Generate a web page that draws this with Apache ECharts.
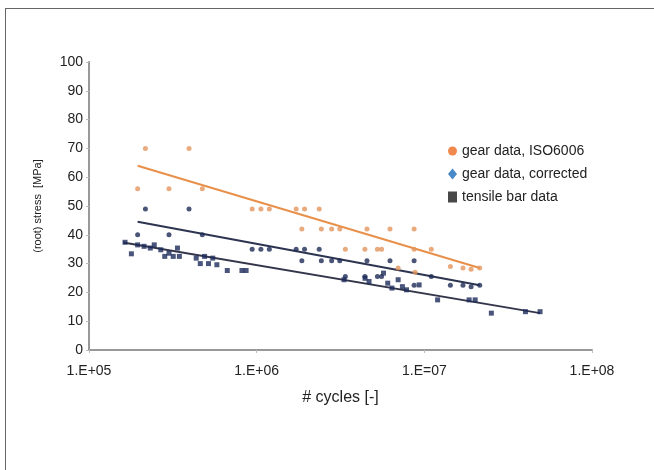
<!DOCTYPE html>
<html style="height: 100%;">
<head>
<meta charset="utf-8">
<title>stress vs cycles</title>
<script type="text/javascript" src="https://cdn.jsdelivr.net/npm/echarts@6/dist/echarts.min.js"></script>
</head>
<body style="height: 100%; margin: 0; background: #fff;">
<div id="frame" style="position:absolute; left:5px; top:8px; width:700px; height:500px; border-left:1px solid #666; border-top:1px solid #666;"></div>
<div id="container" style="position:absolute; left:0; top:0; width:654px; height:470px;"></div>
<script type="text/javascript">
// tick labels as printed in the picture
var xTickLabels = ['1.E+05', '1.E+06', '1.E=07', '1.E+08'];
var legendNames = ['gear data, ISO6006', 'gear data, corrected', 'tensile bar data'];

// gear data, ISO6006 : [cycles, stress]
var isoData = [
  [1.95e5, 56], [2.17e5, 70], [3.0e5, 56], [3.95e5, 70], [4.74e5, 56],
  [9.4e5, 49], [1.06e6, 49], [1.19e6, 49], [1.72e6, 49], [1.93e6, 49], [2.36e6, 49],
  [1.86e6, 42], [2.43e6, 42], [2.8e6, 42], [3.13e6, 42], [4.55e6, 42], [6.24e6, 42], [8.69e6, 42],
  [3.38e6, 35], [4.42e6, 35], [5.25e6, 35], [5.56e6, 35], [8.69e6, 35], [1.1e7, 35],
  [6.98e6, 28.5], [8.8e6, 27], [1.43e7, 29], [1.7e7, 28.5], [1.9e7, 28], [2.14e7, 28.5]
];

// gear data, corrected
var correctedData = [
  [1.95e5, 40], [2.17e5, 49], [3.0e5, 40], [3.95e5, 49], [4.74e5, 40],
  [9.4e5, 35], [1.06e6, 35], [1.19e6, 35], [1.72e6, 35], [1.93e6, 35], [2.36e6, 35],
  [1.86e6, 31], [2.43e6, 31], [2.8e6, 31], [3.13e6, 31], [4.55e6, 31], [6.24e6, 31], [8.69e6, 31],
  [3.38e6, 25.5], [4.42e6, 25.5], [5.25e6, 25.5], [5.56e6, 25.5], [8.69e6, 22.5], [1.1e7, 25.5],
  [1.43e7, 22.5], [1.7e7, 22.5], [1.9e7, 22], [2.14e7, 22.5]
];

// tensile bar data
var tensileData = [
  [1.64e5, 37.4], [1.79e5, 33.4], [1.95e5, 36.5], [2.13e5, 36], [2.32e5, 35.4], [2.45e5, 36.5],
  [2.68e5, 34.8], [2.83e5, 32.5], [3.0e5, 33.6], [3.18e5, 32.5], [3.37e5, 35.4], [3.46e5, 32.5],
  [4.36e5, 31.9], [4.61e5, 30], [4.89e5, 32.5], [5.16e5, 30], [5.47e5, 31.9], [5.79e5, 29.6],
  [6.68e5, 27.6], [8.17e5, 27.6], [8.65e5, 27.6],
  [3.32e6, 24.4], [4.43e6, 24.9], [4.68e6, 23.8], [5.71e6, 26.7], [6.05e6, 23.2], [6.41e6, 21.5],
  [6.98e6, 24.4], [7.4e6, 22], [7.83e6, 20.9], [9.31e6, 22.6], [1.2e7, 17.4], [1.85e7, 17.4],
  [2.01e7, 17.4], [2.51e7, 12.8], [4.01e7, 13.3], [4.9e7, 13.3]
];

// fitted trend lines (end points)
var isoTrend = [[1.95e5, 64], [2.14e7, 28.5]];
var correctedTrend = [[1.95e5, 44.5], [2.14e7, 22.5]];
var tensileTrend = [[1.6e5, 37.3], [4.9e7, 12.8]];

var dom = document.getElementById('container');
var myChart = echarts.init(dom, null, { renderer: 'canvas' });
var font = 'Liberation Sans, Arial, sans-serif';

function trend(data, color) {
  return {
    type: 'line', data: data, symbol: 'none', silent: true,
    lineStyle: { color: color, width: 2 }, z: 1
  };
}

var option = {
  animation: false,
  textStyle: { fontFamily: font },
  grid: { left: 89, right: 62, top: 62, bottom: 120 },
  legend: {
    orient: 'vertical', left: 443, top: 139, itemGap: 9,
    itemWidth: 9, itemHeight: 11,
    textStyle: { fontSize: 14, color: '#222', fontFamily: font },
    data: [
      { name: legendNames[0], icon: 'circle', itemStyle: { color: '#ee6a22' } },
      { name: legendNames[1], icon: 'diamond', itemStyle: { color: '#1b6cbc' } },
      { name: legendNames[2], icon: 'rect', itemStyle: { color: '#1a1a1a' } }
    ]
  },
  xAxis: {
    type: 'log', logBase: 10, min: 1e5, max: 1e8,
    name: '# cycles [-]', nameLocation: 'middle', nameGap: 40,
    nameTextStyle: { fontSize: 16, color: '#222' },
    axisLine: { lineStyle: { color: '#999', width: 2 } },
    axisTick: { show: true, length: 3, lineStyle: { color: '#bbb' } },
    minorTick: { show: false },
    splitLine: { show: false },
    axisLabel: {
      fontSize: 14, color: '#222', margin: 14,
      formatter: function (v) {
        var i = Math.round(Math.log10(v)) - 5;
        return xTickLabels[i] || '';
      }
    }
  },
  yAxis: {
    type: 'value', min: 0, max: 100, interval: 10,
    name: '(root) stress  [MPa]', nameLocation: 'middle', nameGap: 46, nameRotate: 90,
    nameTextStyle: { fontSize: 11, color: '#222' },
    axisLine: { show: true, lineStyle: { color: '#999', width: 2 } },
    axisTick: { show: true, length: 3, lineStyle: { color: '#bbb' } },
    splitLine: { show: false },
    axisLabel: { fontSize: 14, color: '#222', margin: 6 }
  },
  series: [
    trend(isoTrend, '#e8904a'),
    trend(correctedTrend, '#2c3450'),
    trend(tensileTrend, '#33364a'),
    {
      name: legendNames[0], type: 'scatter', data: isoData,
      symbol: 'circle', symbolSize: 5, itemStyle: { color: '#e4955c' }, z: 3
    },
    {
      name: legendNames[1], type: 'scatter', data: correctedData,
      symbol: 'circle', symbolSize: 5, itemStyle: { color: '#1d2a55' }, z: 3
    },
    {
      name: legendNames[2], type: 'scatter', data: tensileData,
      symbol: 'rect', symbolSize: 5, itemStyle: { color: '#1c2a5a' }, z: 3
    }
  ]
};
myChart.setOption(option);
</script>
</body>
</html>
